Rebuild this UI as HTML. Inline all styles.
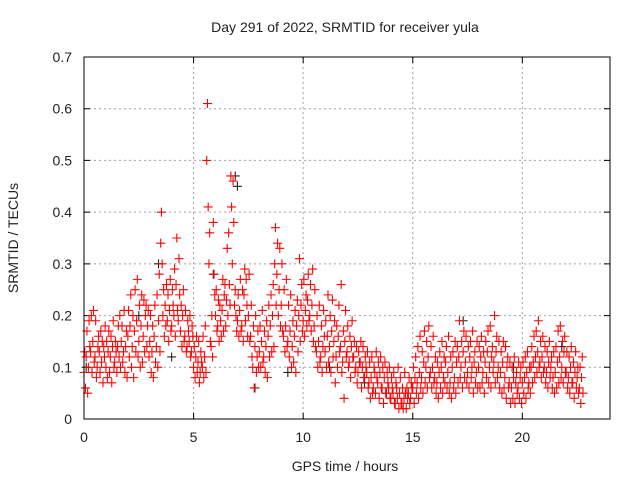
<!DOCTYPE html>
<html><head><meta charset="utf-8"><style>
html,body{margin:0;padding:0;background:#fff}
svg{display:block;font-family:"Liberation Sans",sans-serif}
</style></head><body>
<svg id="chart" width="640" height="480" viewBox="0 0 640 480">
<text x="345" y="32" text-anchor="middle" font-size="14" fill="#222">Day 291 of 2022, SRMTID for receiver yula</text>
<text x="345" y="471" text-anchor="middle" font-size="14" fill="#222">GPS time / hours</text>
<text transform="translate(18,238) rotate(-90)" text-anchor="middle" font-size="14" fill="#222">SRMTID / TECUs</text>
<g id="grid"></g>
<g id="ticks"></g>
<g id="black-series"></g>
<g id="red-series"></g>
<rect x="84" y="57" width="526" height="362" fill="none" stroke="#000" stroke-width="1"/>
</svg>
<script>
const xTicks = [0, 5, 10, 15, 20];
const yTicks = [0, 0.1, 0.2, 0.3, 0.4, 0.5, 0.6, 0.7];
const yTickLabels = ["0", "0.1", "0.2", "0.3", "0.4", "0.5", "0.6", "0.7"];
// one row per hour, 10 buckets of 0.1 h each, several samples per bucket
const redHourRows = [
[[.09,.13,.06],[.12,.17,.05],[.10,.19,.14],[.13,.20,.09],[.15,.21,.11],[.12,.19,.08],[.10,.14,.16],[.13,.09,.17],[.11,.15,.07],[.14,.12,.18]],
[[.10,.15,.08],[.13,.17,.09],[.12,.16,.07],[.14,.19,.10],[.11,.15,.13],[.09,.14,.18],[.12,.20,.10],[.15,.18,.11],[.13,.21,.09],[.14,.17,.08]],
[[.16,.21,.12],[.18,.24,.10],[.14,.20,.08],[.17,.25,.13],[.19,.27,.12],[.15,.22,.10],[.18,.24,.11],[.16,.23,.13],[.20,.22,.14],[.18,.21,.12]],
[[.15,.20,.09],[.13,.18,.08],[.16,.22,.11],[.14,.24,.10],[.19,.28,.13],[.34,.40,.30],[.20,.25,.16],[.22,.18,.26],[.19,.24,.15],[.21,.27,.17]],
[[.18,.25,.22],[.20,.29,.16],[.26,.35,.21],[.19,.31,.24],[.17,.22,.14],[.20,.25,.15],[.16,.21,.13],[.14,.19,.17],[.15,.20,.12],[.13,.18,.16]],
[[.10,.14,.08],[.12,.16,.09],[.11,.15,.07],[.09,.13,.11],[.10,.16,.08],[.12,.18,.09],[.50,.61,.41],[.30,.36,.15],[.14,.20,.12],[.38,.28,.24]],
[[.20,.25,.17],[.18,.23,.15],[.22,.19,.16],[.21,.27,.17],[.24,.26,.18],[.23,.33,.20],[.36,.26,.22],[.47,.41,.30],[.46,.38,.22],[.25,.20,.17]],
[[.19,.24,.16],[.21,.27,.17],[.18,.25,.15],[.24,.29,.19],[.27,.22,.16],[.20,.28,.15],[.16,.22,.12],[.10,.18,.06],[.14,.20,.09],[.12,.17,.10]],
[[.13,.18,.10],[.15,.21,.11],[.12,.17,.09],[.14,.19,.08],[.16,.22,.12],[.18,.24,.13],[.20,.26,.14],[.30,.37,.22],[.28,.34,.20],[.25,.33,.18]],
[[.22,.30,.17],[.16,.25,.13],[.18,.27,.14],[.15,.22,.12],[.17,.24,.10],[.14,.19,.11],[.16,.21,.09],[.18,.23,.13],[.20,.31,.15],[.22,.26,.17]],
[[.19,.27,.16],[.21,.24,.18],[.23,.28,.19],[.20,.26,.17],[.22,.29,.15],[.18,.25,.14],[.13,.20,.10],[.15,.22,.11],[.12,.18,.09],[.14,.21,.16]],
[[.13,.19,.10],[.16,.24,.11],[.14,.20,.09],[.17,.23,.12],[.15,.19,.07],[.12,.18,.10],[.16,.22,.13],[.14,.26,.09],[.11,.17,.04],[.15,.21,.12]],
[[.13,.18,.10],[.11,.16,.08],[.14,.19,.12],[.12,.15,.09],[.10,.14,.07],[.09,.13,.11],[.11,.15,.06],[.10,.14,.08],[.08,.12,.10],[.09,.13,.06]],
[[.07,.11,.04],[.08,.12,.05],[.06,.10,.09],[.05,.13,.08],[.07,.11,.04],[.09,.12,.06],[.06,.10,.03],[.08,.11,.05],[.05,.09,.07],[.06,.10,.04]],
[[.04,.08,.06],[.05,.09,.03],[.03,.07,.06],[.04,.10,.02],[.05,.08,.03],[.03,.06,.02],[.04,.09,.05],[.02,.06,.04],[.05,.08,.03],[.04,.07,.06]],
[[.06,.10,.03],[.08,.12,.05],[.07,.14,.04],[.09,.16,.06],[.08,.13,.05],[.11,.17,.07],[.10,.15,.06],[.12,.18,.08],[.09,.14,.06],[.10,.16,.07]],
[[.08,.12,.05],[.07,.11,.04],[.09,.13,.06],[.10,.15,.05],[.08,.12,.07],[.11,.14,.06],[.09,.16,.05],[.07,.12,.04],[.10,.13,.06],[.08,.15,.05]],
[[.11,.14,.07],[.12,.19,.08],[.10,.15,.06],[.13,.17,.08],[.11,.16,.07],[.09,.14,.06],[.12,.15,.08],[.10,.17,.05],[.11,.13,.07],[.09,.15,.06]],
[[.10,.14,.06],[.12,.16,.07],[.09,.13,.05],[.11,.15,.08],[.13,.17,.07],[.10,.18,.06],[.12,.14,.09],[.11,.20,.07],[.13,.16,.08],[.10,.15,.06]],
[[.09,.13,.05],[.11,.15,.06],[.08,.14,.04],[.10,.12,.06],[.07,.11,.03],[.06,.10,.04],[.08,.12,.03],[.07,.09,.05],[.06,.11,.04],[.08,.10,.03]],
[[.07,.11,.05],[.08,.12,.04],[.09,.13,.06],[.07,.10,.05],[.10,.14,.07],[.11,.16,.08],[.12,.17,.09],[.13,.19,.10],[.11,.15,.08],[.12,.16,.09]],
[[.10,.14,.07],[.09,.13,.06],[.11,.15,.08],[.10,.12,.06],[.08,.13,.05],[.09,.14,.06],[.11,.17,.07],[.12,.18,.08],[.10,.15,.07],[.13,.16,.09]],
[[.09,.13,.06],[.08,.12,.05],[.10,.14,.07],[.07,.11,.04],[.09,.13,.06],[.08,.10,.05],[.06,.10,.03],[.08,.12,.05]]
];
const blackHours = [0.1, 2.5, 3.4, 4.0, 5.9, 6.9, 7.0, 7.8, 9.3, 11.2, 12.8, 17.3, 19.6, 21.8];
const blackValues = [0.10, 0.20, 0.30, 0.12, 0.28, 0.47, 0.45, 0.06, 0.09, 0.10, 0.07, 0.19, 0.10, 0.14];

const X0 = 84, X1 = 610, Y0 = 419, Y1 = 57, XMAX = 24, YMAX = 0.7;
const xs = h => X0 + (h / XMAX) * (X1 - X0);
const ys = v => Y0 - (v / YMAX) * (Y0 - Y1);
const NS = "http://www.w3.org/2000/svg";
function mk(tag, attrs, parent) {
  const e = document.createElementNS(NS, tag);
  for (const k in attrs) e.setAttribute(k, attrs[k]);
  parent.appendChild(e);
  return e;
}
const grid = document.getElementById("grid");
const ticks = document.getElementById("ticks");
xTicks.forEach((t, i) => {
  const x = xs(t);
  if (t > 0) {
    const g = mk("line", {x1: x, x2: x, y1: Y1, y2: Y0, stroke: "#a0a0a0", "stroke-dasharray": "2,3", "stroke-width": 1}, grid);
    
    
  }
  const tk = mk("path", {d: `M${x},${Y0}v-6M${x},${Y1}v6`, stroke: "#000"}, ticks);
  
  
  const lb = mk("text", {x: x, y: 442, "text-anchor": "middle", "font-size": 14, fill: "#222"}, ticks);
  lb.textContent = String(t);
  
  
});
yTicks.forEach((t, i) => {
  const y = ys(t);
  if (t > 0 && t < YMAX) {
    const g = mk("line", {x1: X0, x2: X1, y1: y, y2: y, stroke: "#a0a0a0", "stroke-dasharray": "2,3", "stroke-width": 1}, grid);
    
    
  }
  const tk = mk("path", {d: `M${X0},${y}h6M${X1},${y}h-6`, stroke: "#000"}, ticks);
  
  
  const lb = mk("text", {x: 72, y: y + 5, "text-anchor": "end", "font-size": 14, fill: "#222"}, ticks);
  lb.textContent = yTickLabels[i];
  
  
});
function plus(h, v, color, parent, name) {
  const x = xs(h), y = ys(v);
  const p = mk("path", {d: `M${x - 4.5},${y}h9M${x},${y - 4.5}v9`, stroke: color, "stroke-width": 1.1, fill: "none"}, parent);
  
  
}
const bg = document.getElementById("black-series");
blackHours.forEach((h, i) => plus(h, blackValues[i], "#222", bg, "black-point"));
const rg = document.getElementById("red-series");
const subOffsets = [0, 0.033, 0.066];
redHourRows.forEach((row, hr) => {
  row.forEach((bucket, b) => {
    bucket.forEach((v, k) => plus(hr + b / 10 + subOffsets[k % 3], v, "#ff0000", rg, "red-point"));
  });
});
</script>
</body></html>
